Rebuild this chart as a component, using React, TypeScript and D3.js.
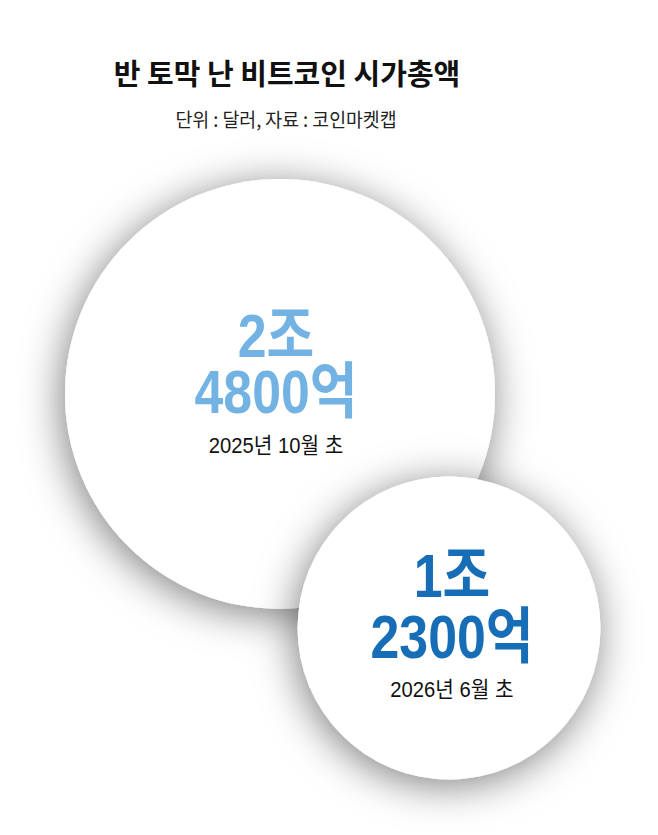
import * as d3 from "d3";

// 비트코인 시가총액 (억 달러)
const dates = ["2025년 10월 초", "2026년 6월 초"];
const values = [24800, 12300];
const trillionLabels = ["2조", "1조"];
const billionLabels = ["4800억", "2300억"];
const colors = ["#72b3e3", "#176db6"];

const title = "반 토막 난 비트코인 시가총액";
const subtitle = "단위 : 달러, 자료 : 코인마켓캡";

const W = 658;
const H = 835;

const NUM_FONT = "'Liberation Sans', Arial, 'Noto Sans CJK KR', sans-serif";
const KR_FONT = "'Noto Sans CJK KR', 'Noto Sans', sans-serif";

export default function App() {
  const x = d3.scaleLinear().domain([0, 1]).range([280, 449]);
  const y = d3.scaleLinear().domain([0, 1]).range([394, 628]);
  const rMax = 215;
  const r = d3.scaleSqrt().domain([0, d3.max(values) ?? 1]).range([0, rMax]);

  return (
    <div style={{ position: "absolute", left: 0, top: 0 }}>
      <svg width={W} height={H} viewBox={`0 0 ${W} ${H}`} style={{ display: "block", background: "#fff" }}>
        <defs>
          <filter id="shadow" x="-40%" y="-40%" width="180%" height="180%">
            <feDropShadow dx={-3} dy={6} stdDeviation={20} floodColor="#000" floodOpacity={0.5} />
          </filter>
        </defs>

        <text x={287} y={85} textAnchor="middle" fontFamily={KR_FONT} fontWeight={700} fontSize={29} fill="#111">
          {title}
        </text>
        <g transform="translate(286,127) scale(0.94,1)">
          <text textAnchor="middle" fontFamily={KR_FONT} fontWeight={400} fontSize={19.5} fill="#222">
            {subtitle}
          </text>
        </g>

        {values.map((v, i) => {
          const cx = x(i);
          const cy = y(i);
          const rad = r(v);
          const shift = rMax - rad;
          const tx = cx - 4 + shift * 0.11;
          return (
            <g key={dates[i]}>
              <circle cx={cx} cy={cy} r={rad} fill="#fff" filter="url(#shadow)" />
              <g transform={`translate(${tx},${cy - 37 + shift * 0.09}) scale(0.85,1)`}>
                <text textAnchor="middle" fontFamily={NUM_FONT} fontWeight={700} fontSize={61} fill={colors[i]}>
                  {trillionLabels[i]}
                </text>
              </g>
              <g transform={`translate(${tx},${cy + 19 + shift * 0.17}) scale(0.85,1)`}>
                <text textAnchor="middle" fontFamily={NUM_FONT} fontWeight={700} fontSize={61} fill={colors[i]}>
                  {billionLabels[i]}
                </text>
              </g>
              <g transform={`translate(${tx},${cy + 59 + shift * 0.16}) scale(0.92,1)`}>
                <text textAnchor="middle" fontFamily={NUM_FONT} fontWeight={400} fontSize={22} fill="#111">
                  {dates[i]}
                </text>
              </g>
            </g>
          );
        })}
      </svg>
    </div>
  );
}
